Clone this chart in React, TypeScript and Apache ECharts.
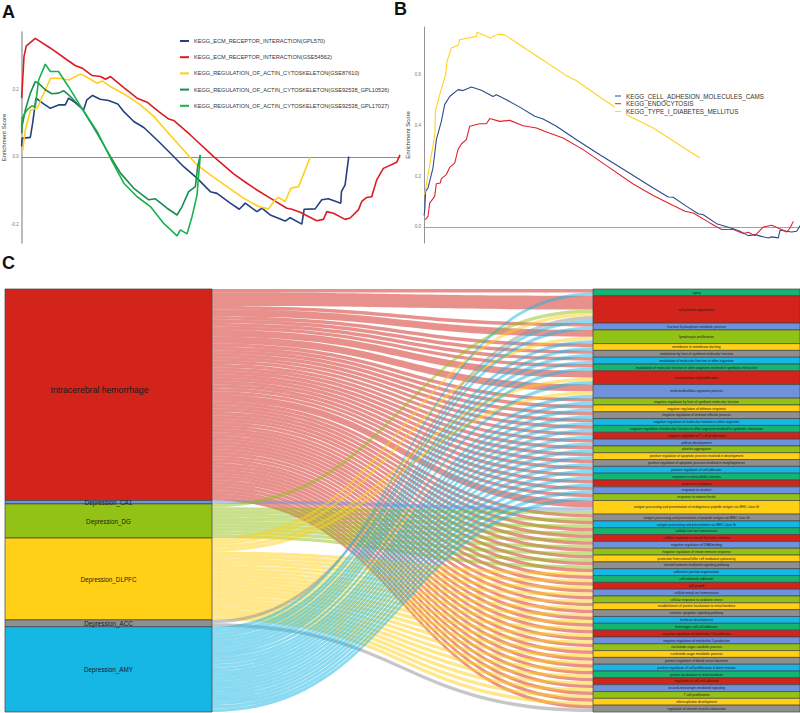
import React, { useEffect, useRef } from "react";
import * as echarts from "echarts";

type P = [number, number];

// Panel A: running enrichment scores (gene rank, ES)
const a1Name = "KEGG_ECM_RECEPTOR_INTERACTION(GPL570)";
const a1: P[] = [[0,.031],[1,.055],[26,.058],[33,.1],[43,.174],[66,.157],[86,.144],[111,.154],[131,.154],[141,.174],[161,.161],[186,.139],[196,.169],[213,.182],[236,.171],[261,.167],[289,.157],[307,.134],[337,.105],[367,.087],[407,.05],[447,.011],[487,-.029],[527,-.063],[567,-.103],[587,-.108],[627,-.137],[654,-.155],[672,-.137],[707,-.162],[722,-.152],[747,-.172],[792,-.19],[807,-.18],[842,-.199],[849,-.155],[882,-.154],[902,-.127],[922,-.124],[959,-.137],[961,-.103],[972,-.083],[983,.001]];
const a2Name = "KEGG_ECM_RECEPTOR_INTERACTION(GSE54562)";
const a2: P[] = [[0,.174],[7,.297],[14,.329],[41,.351],[87,.322],[137,.287],[162,.27],[182,.263],[212,.241],[237,.238],[252,.23],[267,.238],[307,.205],[347,.174],[377,.162],[412,.134],[442,.112],[457,.108],[507,.065],[577,.001],[637,-.05],[677,-.078],[707,-.098],[747,-.122],[797,-.152],[812,-.155],[837,-.164],[887,-.189],[907,-.185],[917,-.162],[937,-.167],[972,-.185],[987,-.181],[1012,-.157],[1022,-.132],[1037,-.12],[1052,-.118],[1067,-.068],[1087,-.034],[1127,-.016],[1137,.006]];
const a3Name = "KEGG_REGULATION_OF_ACTIN_CYTOSKELETON(GSE87610)";
const a3: P[] = [[3,.019],[12,.085],[27,.139],[47,.144],[62,.179],[87,.233],[112,.233],[142,.228],[177,.246],[202,.233],[227,.218],[242,.225],[267,.208],[312,.184],[357,.154],[397,.12],[437,.075],[477,.031],[527,-.024],[567,-.053],[617,-.088],[667,-.122],[712,-.147],[742,-.154],[762,-.127],[772,-.12],[792,-.132],[809,-.093],[832,-.088],[852,-.039],[867,-.001]];
const a4Name = "KEGG_REGULATION_OF_ACTIN_CYTOSKELETON(GSE92538_GPL10526)";
const a4: P[] = [[0,.07],[1,.09],[11,.139],[26,.189],[41,.223],[51,.218],[71,.199],[91,.187],[111,.189],[126,.196],[141,.184],[181,.144],[227,.07],[267,.001],[297,-.048],[337,-.093],[382,-.127],[402,-.124],[437,-.152],[467,-.172],[482,-.147],[502,-.103],[522,-.088],[529,-.029],[537,.006]];
const a5Name = "KEGG_REGULATION_OF_ACTIN_CYTOSKELETON(GSE92538_GPL17027)";
const a5: P[] = [[0,.09],[1,.115],[16,.139],[31,.151],[41,.149],[51,.228],[71,.275],[86,.253],[111,.253],[141,.208],[181,.144],[227,.075],[267,-.004],[307,-.078],[347,-.118],[387,-.147],[427,-.197],[467,-.234],[477,-.216],[497,-.228],[512,-.177],[527,-.113],[537,.006]];

// Panel B
const b1Name = "KEGG_CELL_ADHESION_MOLECULES_CAMS";
const b1: P[] = [[0,.045],[2,.062],[5,.14],[12,.153],[27,.232],[37,.343],[52,.415],[62,.481],[77,.513],[102,.54],[117,.536],[142,.55],[172,.537],[207,.513],[217,.52],[247,.5],[287,.471],[332,.435],[357,.424],[397,.396],[457,.343],[527,.284],[607,.219],[687,.153],[732,.118],[747,.117],[787,.081],[822,.052],[837,.048],[877,.013],[927,-.007],[947,-.017],[972,-.034],[992,-.03],[1012,-.037],[1032,-.043],[1042,-.039],[1062,-.043],[1067,-.013],[1102,-.02],[1117,-.017],[1127,.005]];
const b2Name = "KEGG_ENDOCYTOSIS";
const b2: P[] = [[4,.029],[12,.042],[17,.094],[32,.12],[37,.17],[49,.173],[52,.19],[67,.206],[77,.234],[92,.251],[102,.304],[112,.326],[127,.343],[137,.396],[167,.406],[187,.406],[197,.426],[227,.415],[257,.419],[297,.398],[337,.389],[367,.373],[417,.35],[477,.304],[547,.241],[627,.169],[687,.124],[747,.084],[782,.062],[807,.055],[857,.016],[892,-.01],[927,-.01],[957,-.026],[972,-.021],[992,-.034],[1017,0],[1042,.007],[1077,-.013],[1087,-.02],[1097,-.004],[1107,.022]];
const b3Name = "KEGG_TYPE_I_DIABETES_MELLITUS";
const b3: P[] = [[2,.127],[12,.206],[27,.32],[33,.37],[34,.454],[47,.52],[65,.6],[69,.651],[82,.703],[102,.714],[107,.736],[157,.749],[159,.765],[199,.743],[222,.758],[242,.755],[287,.716],[347,.664],[427,.595],[457,.575],[527,.511],[607,.441],[687,.389],[757,.33],[827,.271]];

// Panel C: Sankey
const leftNames = ["Intracerebral hemorrhage", "Depression_CA1", "Depression_DG", "Depression_DLPFC", "Depression_ACC", "Depression_AMY"];
const terms = [
  "aging", "cell junction organization", "fructose 6-phosphate metabolic process", "lymphocyte proliferation", "membrane to membrane docking",
  "modulation by host of symbiont molecular function", "modulation of molecular function in other organism",
  "modulation of molecular function in other organism involved in symbiotic interaction", "mononuclear cell proliferation",
  "multi-multicellular organism process", "negative regulation by host of symbiont molecular function", "negative regulation of defense response",
  "negative regulation of immune effector process", "negative regulation of molecular function in other organism",
  "negative regulation of molecular function in other organism involved in symbiotic interaction", "negative regulation of T cell proliferation",
  "pallium development", "platelet aggregation", "positive regulation of apoptotic process involved in development",
  "positive regulation of apoptotic process involved in morphogenesis", "positive regulation of cell adhesion", "response to extracellular stimulus",
  "response to hypoxia", "response to nicotine", "response to nutrient levels",
  "antigen processing and presentation of endogenous peptide antigen via MHC class Ib", "antigen processing and presentation of peptide antigen via MHC class Ib",
  "antigen processing and presentation via MHC class Ib", "cellular iron ion homeostasis", "cellular response to steroid hormone stimulus",
  "negative regulation of DNA binding", "negative regulation of innate immune response", "protection from natural killer cell mediated cytotoxicity",
  "steroid hormone mediated signaling pathway", "adherens junction organization", "cell-substrate adhesion", "cell growth", "cellular metal ion homeostasis",
  "cellular response to oxidative stress", "establishment of protein localization to mitochondrion", "extrinsic apoptotic signaling pathway", "forebrain development",
  "heterotypic cell-cell adhesion", "negative regulation of interleukin-13 production", "negative regulation of interleukin-5 production",
  "nucleotide-sugar catabolic process", "nucleotide-sugar metabolic process", "positive regulation of blood vessel diameter",
  "positive regulation of cell proliferation in bone marrow", "protein localization to mitochondrion", "regulation of cell-cell adhesion",
  "second-messenger-mediated signaling", "T cell proliferation", "telencephalon development", "regulation of smooth muscle contraction",
];
// Term index lists per source region
const ichExtra: Record<number, number> = { 1: 4, 3: 2, 8: 2, 9: 2, 25: 2 };
const ca1Terms = [25];
const dgTerms = [1, 25, 26, 27, 28, 29, 30, 31, 32, 33];
const dlpfcTerms = [1, 3, 8, 9, 34, 35, 36, 37, 38, 39, 40, 41, 42, 43, 44, 45, 46, 47, 48, 49, 50, 51, 52, 53];
const accTerms = [1, 54];
const amyTerms = [0, 1, 2, 3, 4, 5, 6, 7, 8, 9, 10, 11, 12, 13, 14, 15, 16, 17, 18, 19, 20, 21, 22, 23, 24];

const palette = ["#d2241a", "#6e92dc", "#92c216", "#ffd016", "#8f8f8f", "#16b7e4", "#17b370"];
const FONT = "'Liberation Sans', Arial, sans-serif";

function lineSeries(name: string, data: P[], color: string, idx: number, width: number) {
  return {
    type: "line", name, data, xAxisIndex: idx, yAxisIndex: idx, showSymbol: false, symbol: "none",
    color, lineStyle: { color, width }, itemStyle: { color }, silent: true, z: 2,
  };
}

function buildOption() {
  const leftFont = [8.7, 6.3, 6.3, 6.3, 6.3, 6.3];
  const nodes: any[] = [];
  leftNames.forEach((name, i) => nodes.push({
    name, depth: 0, itemStyle: { color: palette[i % 7] },
    label: { position: "inside", fontSize: leftFont[i], color: "#1a1a1a", fontFamily: FONT, offset: i === 0 ? [-9, -5] : [0, 0.5] },
  }));
  terms.forEach((name, i) => nodes.push({
    name, depth: 1, itemStyle: { color: palette[(i + 6) % 7] },
    label: { position: "inside", fontSize: 3.3, color: "#1a1a1a", fontFamily: FONT },
  }));
  const links: any[] = [];
  terms.forEach((t, i) => links.push({ source: leftNames[0], target: t, value: ichExtra[i] ?? 1 }));
  const add = (src: string, list: number[]) => list.forEach((i) => links.push({ source: src, target: terms[i], value: 1 }));
  add(leftNames[1], ca1Terms);
  add(leftNames[2], dgTerms);
  add(leftNames[3], dlpfcTerms);
  add(leftNames[4], accTerms);
  add(leftNames[5], amyTerms);

  const yAxisCommon = (labels: number[], nameGap: number) => ({
    type: "value", name: "Enrichment Score", nameLocation: "middle", nameGap,
    nameTextStyle: { fontSize: 6, color: "#333", fontFamily: FONT },
    axisTick: { show: false }, splitLine: { show: false },
    axisLabel: { customValues: labels, fontSize: 4.5, color: "#777", margin: 3, fontFamily: FONT, formatter: (v: number) => v.toFixed(1) },
  });

  return {
    animation: false,
    backgroundColor: "#fff",
    textStyle: { fontFamily: FONT },
    grid: [
      { left: 21, width: 379, top: 32, height: 211, containLabel: false },
      { left: 424, width: 376, top: 27, height: 216, containLabel: false },
    ],
    xAxis: [
      { type: "value", gridIndex: 0, min: 0, max: 1137, axisLabel: { show: false }, axisTick: { show: false }, splitLine: { show: false }, axisLine: { onZero: true, lineStyle: { color: "#8a8a8a", width: 1.2 } } },
      { type: "value", gridIndex: 1, min: 0, max: 1127, axisLabel: { show: false }, axisTick: { show: false }, splitLine: { show: false }, axisLine: { onZero: true, lineStyle: { color: "#8a8a8a", width: 0.8 } } },
    ],
    yAxis: [
      { ...yAxisCommon([-0.2, 0, 0.2], 13), gridIndex: 0, min: -0.255, max: 0.37, axisLine: { show: true, onZero: false, lineStyle: { color: "#ababab", width: 1.6 } } },
      { ...yAxisCommon([0, 0.2, 0.4, 0.6], 12), gridIndex: 1, min: -0.063, max: 0.786, axisLine: { show: true, onZero: false, lineStyle: { color: "#777", width: 0.8 } } },
    ],
    legend: [
      {
        left: 180, top: 38, orient: "vertical", icon: "rect", itemWidth: 9, itemHeight: 2, itemGap: 10.2, padding: 0, selectedMode: false,
        textStyle: { fontSize: 5.6, color: "#333", fontFamily: FONT },
        data: [a1Name, a2Name, a3Name, a4Name, a5Name],
      },
      {
        left: 615, top: 93, orient: "vertical", icon: "rect", itemWidth: 6, itemHeight: 1, itemGap: 1.7, padding: 0, selectedMode: false, backgroundColor: "#fff",
        textStyle: { fontSize: 6.3, color: "#333", fontFamily: FONT },
        data: [b1Name, b2Name, b3Name],
      },
    ],
    graphic: [
      { type: "text", left: 2, top: 3, style: { text: "A", fill: "#111", font: `bold 18px ${FONT}` } },
      { type: "text", left: 394, top: 0, style: { text: "B", fill: "#111", font: `bold 18px ${FONT}` } },
      { type: "text", left: 2, top: 254, style: { text: "C", fill: "#111", font: `bold 18px ${FONT}` } },
    ],
    series: [
      lineSeries(a1Name, a1, "#23427f", 0, 1.6),
      lineSeries(a2Name, a2, "#dc1c24", 0, 1.6),
      lineSeries(a3Name, a3, "#ffcf1e", 0, 1.6),
      lineSeries(a4Name, a4, "#1b8c4c", 0, 1.6),
      lineSeries(a5Name, a5, "#19b04e", 0, 1.6),
      lineSeries(b1Name, b1, "#2b4c8c", 1, 1.1),
      lineSeries(b2Name, b2, "#e0232e", 1, 1.1),
      lineSeries(b3Name, b3, "#ffd320", 1, 1.1),
      {
        type: "sankey", left: 5, right: 0, top: 289, bottom: 1, nodeWidth: 207, nodeGap: 0, layoutIterations: 0,
        orient: "horizontal", draggable: false, silent: true, emphasis: { disabled: true },
        itemStyle: { borderColor: "#444", borderWidth: 0.7 },
        lineStyle: { color: "source", opacity: 0.5, curveness: 0.5 },
        data: nodes, links,
      },
    ],
  };
}

export default function App() {
  const ref = useRef<HTMLDivElement>(null);
  useEffect(() => {
    document.body.style.margin = "0";
    const chart = echarts.init(ref.current!, undefined, { renderer: "svg" });
    chart.setOption(buildOption() as any);
    return () => chart.dispose();
  }, []);
  return <div ref={ref} style={{ width: 800, height: 713 }} />;
}
